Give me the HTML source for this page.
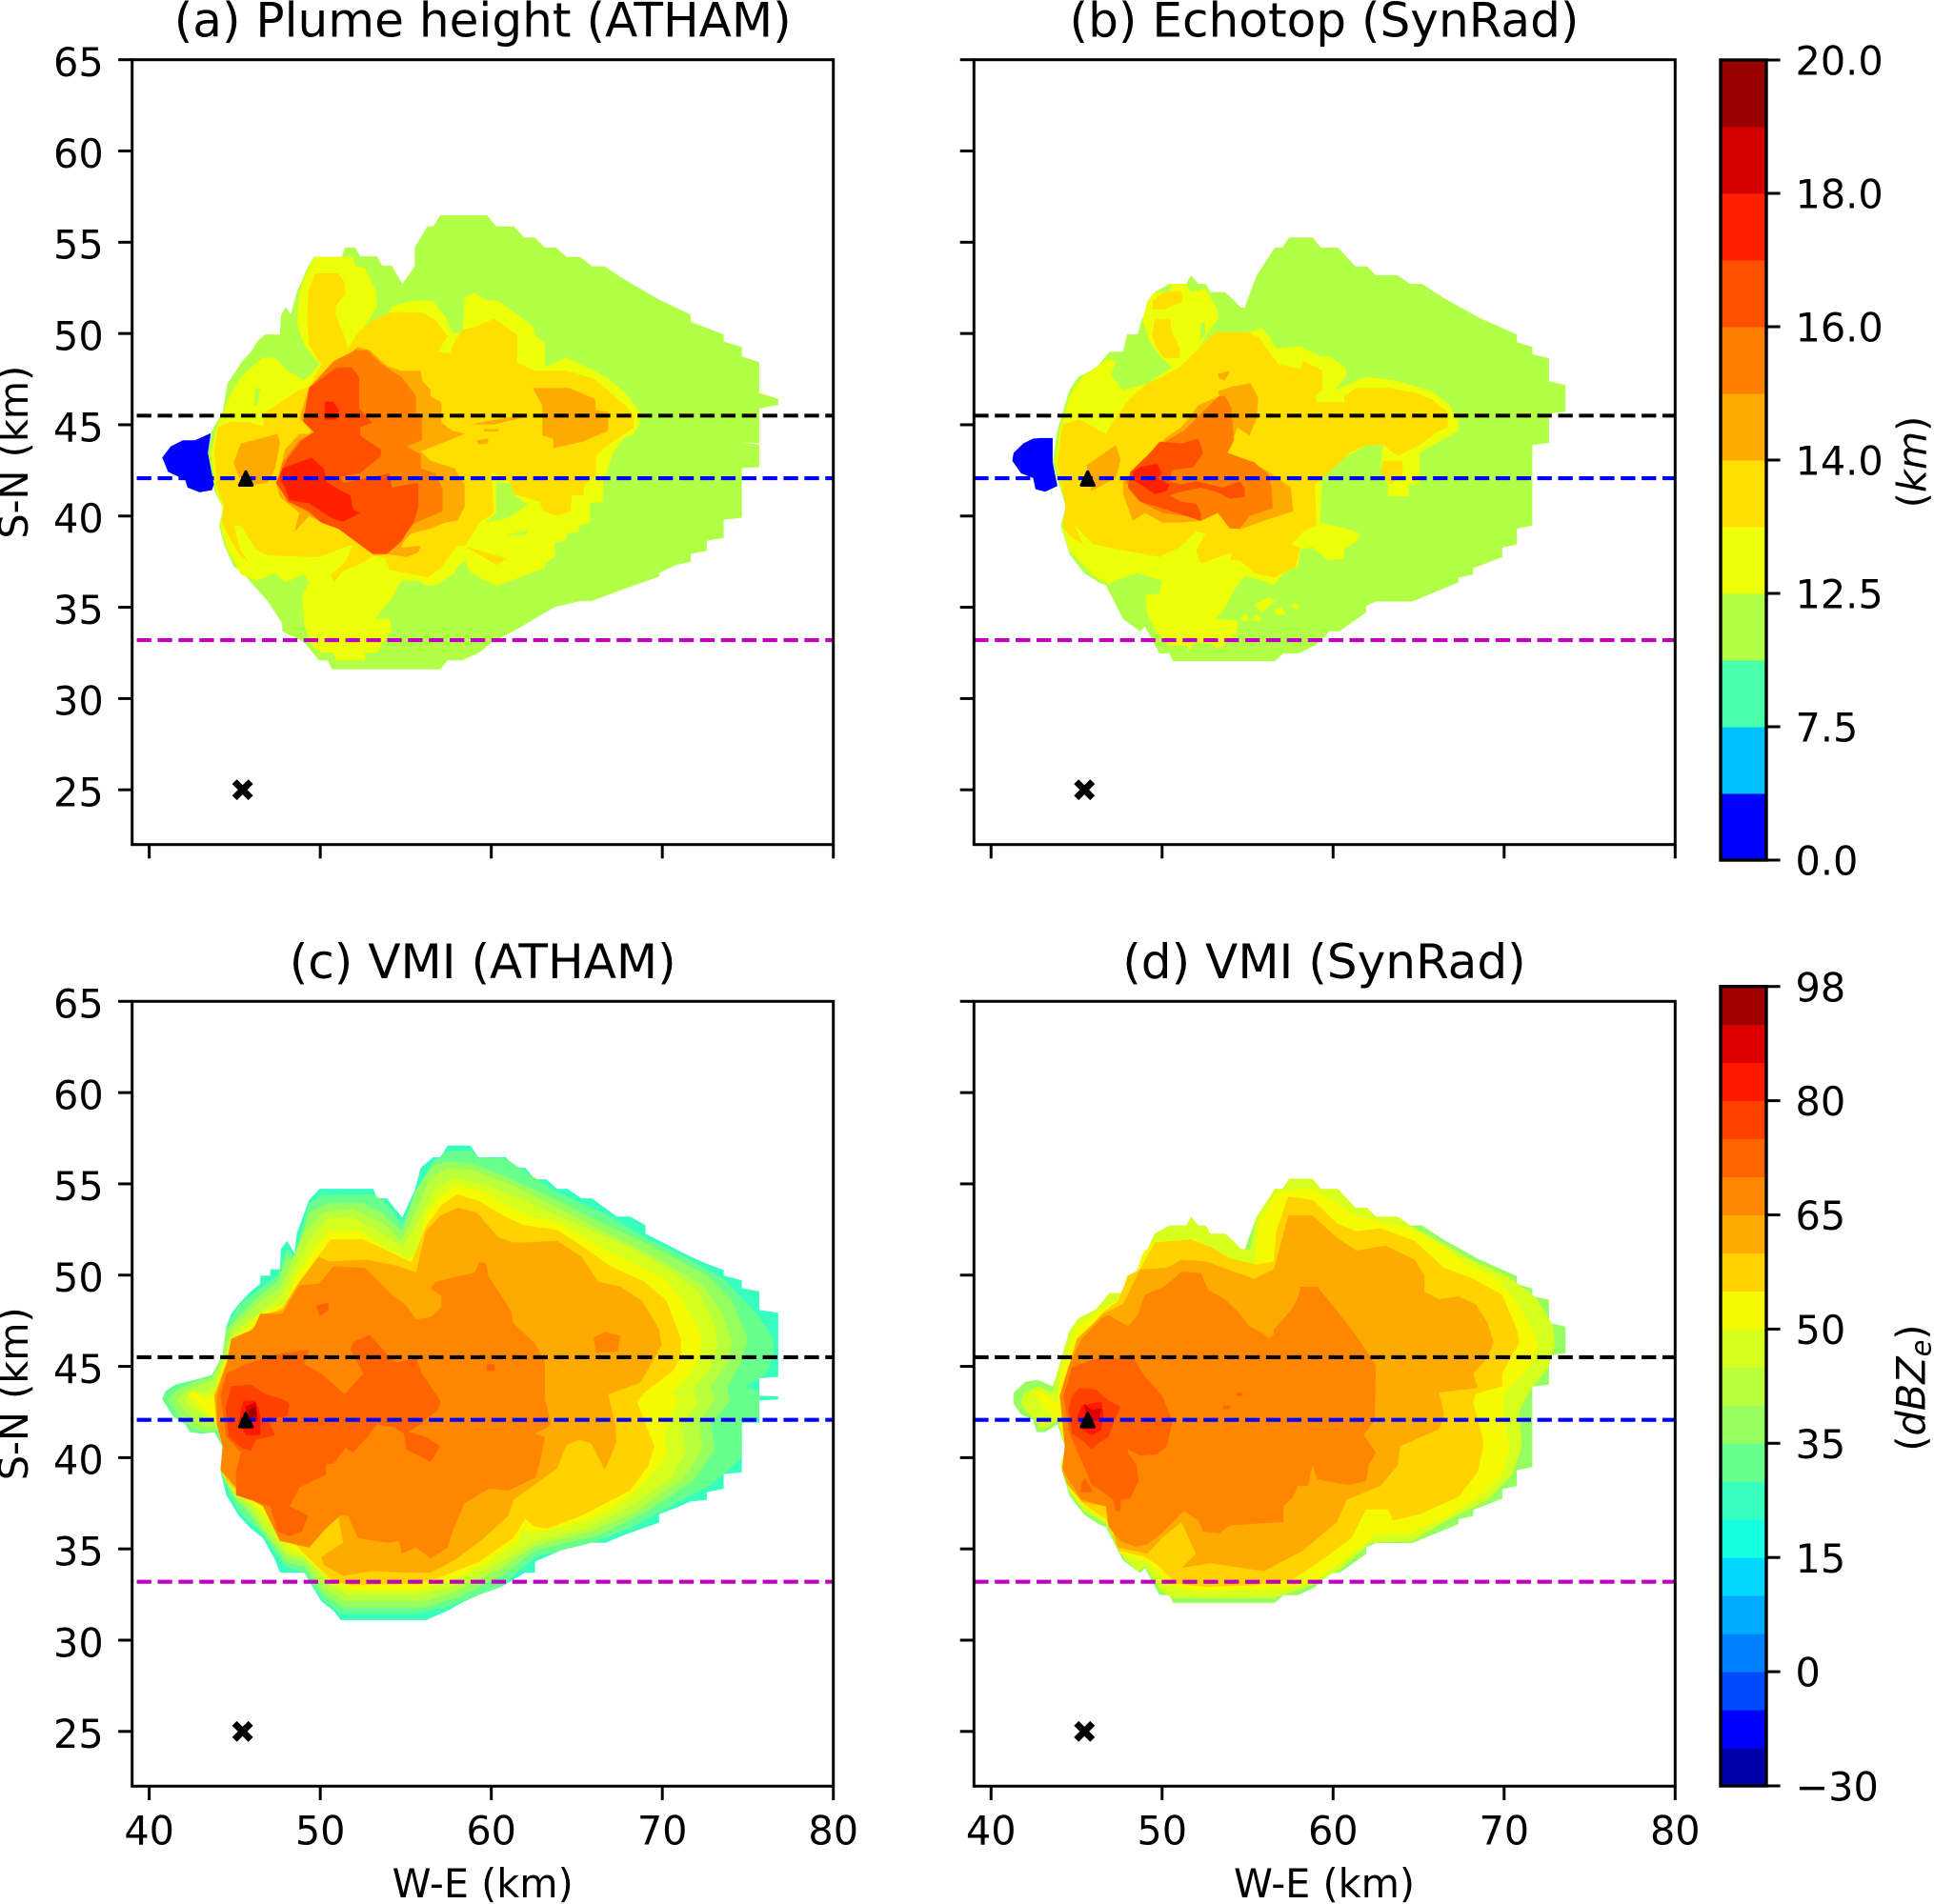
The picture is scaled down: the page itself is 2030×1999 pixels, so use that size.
<!DOCTYPE html>
<html lang="en">
<head>
<meta charset="utf-8">
<title>Plume height, echotop and VMI comparison</title>
<style>
html,body{margin:0;padding:0;background:#fff;}
svg{display:block;}
text{font-family:"DejaVu Sans","Liberation Sans",sans-serif;fill:#000;}
.tick{font-size:41.4px;}
.title{font-size:50.1px;text-anchor:middle;}
.axl{font-size:41.4px;text-anchor:middle;}
</style>
</head>
<body>
<svg id="fig" xmlns="http://www.w3.org/2000/svg" width="2030" height="1999" viewBox="0 0 2030 1999">
<rect x="0" y="0" width="2030" height="1999" fill="#fff"/>
<g id="plots"></g>
<text class="title" x="506.7" y="38.5">(a) Plume height (ATHAM)</text>
<text class="title" x="1390" y="38.5">(b) Echotop (SynRad)</text>
<text class="title" x="506.7" y="1027">(c) VMI (ATHAM)</text>
<text class="title" x="1390" y="1027">(d) VMI (SynRad)</text>
<text class="axl" x="506.7" y="1992">W-E (km)</text>
<text class="axl" x="1390" y="1992">W-E (km)</text>
<text class="axl" transform="translate(29,474.7) rotate(-90)">S-N (km)</text>
<text class="axl" transform="translate(29,1463.3) rotate(-90)">S-N (km)</text>
<text class="axl" transform="translate(2021.5,485) rotate(-90)">(<tspan font-style="italic">km</tspan>)</text>
<text class="axl" transform="translate(2020.5,1457) rotate(-90)">(<tspan font-style="italic">dBZ</tspan><tspan font-style="italic" font-size="29px" dy="6">e</tspan><tspan dy="-6">)</tspan></text>
</svg>
<script>
// ---------- axis tick values ----------
const xTickValues = [40,50,60,70,80];
const yTickValues = [25,30,35,40,45,50,55,60,65];
// ---------- horizontal reference lines (S-N km) ----------
const refLineValues = [45.5,42.07,33.2];
// ---------- markers (W-E km, S-N km) ----------
const ventPoint = [45.65,42.05];
const crossPoint = [45.46,25];
// ---------- colorbars ----------
const topColorbarTickLabels = ['0.0','7.5','12.5','14.0','16.0','18.0','20.0'];
const bottomColorbarTickLabels = ['\u221230','0','15','35','50','65','80','98'];
const topBandCount = 12;
const bottomBandCount = 21;

// ---------- contour outlines, flat W-E,S-N pairs in km ----------
const a_green=[57.02,56.48,59.75,56.48,60.29,55.86,61.34,55.86,61.91,55.27,62.54,55.27,63.13,54.71,63.79,54.71,64.41,54.19,65.21,54.19,65.89,53.68,66.63,53.68,67.68,53.02,69.81,51.86,71.66,51.04,71.66,50.65,73.59,49.95,73.59,49.56,74.65,49.26,74.65,48.74,75.67,48.43,75.67,46.75,76.78,46.41,76.78,46.09,75.67,45.89,75.67,43.98,74.65,44.05,75.67,43.91,75.67,42.68,74.65,42.63,74.65,39.91,73.59,39.79,73.59,38.79,72.6,38.65,72.6,38.1,71.66,37.92,71.66,37.49,70.81,37.32,69.81,36.88,69.81,36.68,67.82,36.02,65.83,35.33,65.12,35.33,63.7,35.01,61.29,33.68,60.15,33.16,59.3,32.52,58.3,32.09,57.45,32.09,57.02,31.6,50.68,31.6,50.43,32.09,49.92,32.09,49.06,33.08,47.78,33.68,47.78,34.11,46.93,35.33,45.94,36.37,45.37,36.97,44.94,37.23,44.37,38.44,44.09,39.48,44.32,40.43,43.8,41.39,43.43,43.46,43.66,44.67,44.29,45.71,44.57,47.27,45.08,47.96,45.37,48.4,45.94,49.0,46.36,49.61,46.79,49.95,47.64,49.95,47.7,50.99,47.98,51.46,48.27,51.04,48.64,52.29,49.29,53.68,49.63,54.19,51.25,54.19,51.45,54.71,52.05,54.71,52.33,54.23,53.33,54.23,53.61,53.71,54.18,53.71,54.8,52.72,55.52,53.68,55.52,54.71,56.25,55.86,56.6,55.86];
const a_blue=[43.6,44.54,42.67,44.15,41.96,44.15,41.25,43.81,40.76,43.2,41.1,42.42,42.1,41.99,42.24,41.56,42.95,41.3,43.66,41.42,43.78,41.73,43.43,43.46];
const a_yellow=[49.69,54.19,51.91,54.19,52.05,53.71,52.62,53.59,53.27,52.29,53.33,51.51,52.62,50.39,52.53,49.87,53.18,50.65,54.04,51.17,54.24,51.51,55.46,51.81,56.6,51.81,57.31,50.91,57.73,50.04,58.3,50.04,58.44,51.94,59.01,52.26,59.72,51.81,60.38,51.81,61.43,51.08,62.48,50.35,62.56,49.87,63.13,49.52,63.13,48.14,64.41,48.69,65.83,48.05,66.83,47.53,67.82,46.75,68.68,45.71,68.68,45.02,68.25,44.41,67.82,44.33,67.11,43.46,66.83,42.6,66.54,41.99,66.54,40.78,65.78,40.69,65.78,39.65,65.12,39.48,65.12,39.13,64.41,39.05,64.41,38.7,63.7,38.53,63.7,37.75,63.13,37.4,63.13,37.14,61.14,36.45,60.29,36.19,59.3,36.62,58.73,36.97,58.44,37.58,58.02,37.23,57.87,36.88,56.74,36.19,56.17,36.19,55.74,36.45,54.75,36.45,54.18,35.5,53.18,34.37,54.04,34.37,54.18,33.77,53.61,32.99,53.33,32.52,52.62,32.52,52.62,32.09,50.91,32.09,50.77,32.52,50.06,32.52,49.49,32.9,49.06,34.11,48.92,35.67,49.35,36.37,49.06,36.8,47.93,36.37,47.36,36.88,46.22,36.45,45.37,36.8,44.51,38.27,44.17,39.48,44.29,40.52,43.89,41.39,43.6,43.46,43.95,44.85,44.8,46.75,45.37,47.62,46.65,48.69,47.36,48.66,48.07,47.96,49.06,47.44,49.97,48.31,49.06,49.35,48.64,50.56,48.78,52.29,49.35,53.68];
const a_isle1=[60.29,41.82,61.29,41.82,61.29,41.21,62.14,40.61,61.0,39.91,59.72,39.65,60.29,40.17];
const a_isle2=[60.86,38.96,62.14,39.22,62.0,38.93];
const a_isle3=[48.78,48.66,49.29,47.96,49.06,47.62,48.72,48.31];
const a_isle4=[46.22,47.01,46.5,47.01,46.28,46.06,46.11,46.06];
const a_gold=[49.69,53.3,51.05,53.3,51.42,52.81,51.42,52.12,50.91,51.51,50.91,50.99,51.34,50.04,51.62,49.17,52.19,50.04,53.04,50.73,54.18,51.17,55.88,51.17,56.74,50.73,57.45,49.87,56.88,49.0,57.59,48.92,57.73,49.35,58.3,50.21,59.15,50.39,60.15,50.82,61.51,49.95,61.51,48.4,62.56,47.96,64.41,47.96,65.98,47.53,66.97,46.75,67.82,46.06,68.34,45.54,68.34,44.85,67.68,44.41,66.97,43.98,66.12,43.29,66.12,42.25,65.41,41.64,65.41,41.13,64.7,41.13,64.64,40.26,63.84,40.0,62.99,40.26,62.85,40.78,61.29,41.21,61.14,41.82,60.29,42.25,60.01,42.42,60.15,40.17,59.3,39.65,59.01,39.13,58.44,38.36,60.94,37.66,60.29,37.32,58.44,38.36,58.02,38.36,57.02,37.14,56.31,36.62,55.03,36.88,54.04,37.06,53.84,37.66,53.18,37.84,52.19,37.32,51.34,36.97,50.77,36.37,50.63,36.8,51.48,37.49,51.91,38.44,51.34,38.27,49.92,37.75,46.93,37.84,46.22,38.18,45.37,39.48,44.94,39.48,45.37,38.1,45.79,37.49,45.23,37.92,44.51,39.13,44.23,39.74,44.37,40.52,43.95,41.56,43.8,43.46,44.0,44.85,44.8,45.19,45.94,45.11,46.65,44.93,46.79,45.71,48.78,46.92,49.35,47.1,50.06,48.31,49.35,49.35,49.23,50.56,49.29,52.29];
const a_orange=[52.19,49.26,52.9,49.09,53.9,48.22,54.75,47.96,55.88,47.96,55.94,47.44,56.45,46.92,56.45,46.58,57.08,46.23,57.08,45.11,57.73,44.67,58.44,44.5,57.31,44.07,55.88,43.55,56.45,43.03,57.87,42.6,58.44,41.73,58.44,40.52,58.02,39.74,57.31,39.65,56.45,39.31,55.32,39.05,54.89,38.62,54.75,38.27,55.88,38.36,55.74,38.01,55.03,37.75,53.9,37.92,53.18,37.84,51.91,38.7,51.05,39.31,50.2,39.57,49.35,40.0,48.49,39.13,48.78,40.17,47.64,41.04,47.41,41.82,47.78,42.94,47.93,43.64,48.78,44.5,49.35,44.5,49.49,44.67,48.78,45.37,49.35,47.1,50.77,48.14];
const a_orange2=[45.37,43.98,46.5,44.24,47.5,44.5,47.64,43.98,47.36,42.6,46.93,41.82,46.08,41.73,45.23,42.16,44.94,42.94];
const a_orange3=[62.42,47.01,64.55,47.01,66.06,46.41,66.12,45.8,66.83,45.71,66.83,44.67,65.35,44.07,63.62,43.72,63.62,44.24,62.99,44.41,62.99,46.06];
const a_streak1=[58.73,45.02,61.29,45.44,62.28,45.5,60.15,45.02];
const a_streak2=[59.58,44.76,60.43,44.76,60.43,44.64,59.58,44.64];
const a_streak3=[59.15,44.15,59.81,44.24,59.81,43.98,59.24,43.93];
const a_dark=[52.05,49.09,52.76,49.09,53.61,48.31,54.75,47.62,55.6,46.58,55.6,45.71,55.94,45.37,55.94,44.15,55.03,43.81,55.88,43.38,55.88,42.6,56.74,42.34,57.16,41.47,57.16,40.26,55.6,39.65,55.03,39.22,53.61,37.92,53.04,37.92,51.05,39.31,50.06,39.65,49.2,40.26,48.07,40.78,47.5,41.82,47.78,42.94,48.78,44.15,49.63,44.59,49.06,45.11,49.35,47.01,50.77,48.48];
const a_redorange=[50.97,48.14,51.85,48.14,52.27,47.62,52.27,45.89,53.04,45.11,52.33,44.85,52.33,44.41,53.55,43.64,53.55,43.29,52.33,42.34,51.19,42.16,51.34,41.82,54.04,42.34,54.18,41.56,55.74,41.82,55.74,40.52,55.46,39.65,55.03,39.05,54.75,38.62,53.9,37.92,53.1,37.92,51.05,39.31,50.06,39.65,49.35,40.26,48.15,40.78,47.41,41.82,48.07,43.12,48.92,44.15,49.63,44.59,49.0,45.19,49.35,47.01,50.2,47.62];
const a_red1=[50.26,46.27,50.77,46.27,51.11,45.8,50.91,45.28,50.26,45.28];
const a_red2=[47.78,42.6,49.49,43.2,50.2,42.6,50.34,41.9,51.05,41.47,51.76,41.13,51.91,40.35,52.33,40.17,51.34,39.69,50.77,39.83,49.92,40.35,49.35,40.69,48.21,40.87,47.93,41.56,47.64,42.08];

const b_green=[57.44,55.27,58.8,55.27,59.29,54.71,60.28,54.71,61.31,53.67,61.99,53.67,62.5,53.19,63.78,53.19,64.49,52.72,65.2,52.72,66.48,51.94,68.47,50.9,70.74,49.95,70.74,49.52,71.65,49.26,71.65,48.86,72.62,48.65,72.62,47.39,73.59,47.18,73.59,45.71,72.62,45.62,72.62,44.0,71.65,43.89,71.65,39.48,70.74,39.31,70.74,38.44,69.89,38.27,69.89,37.75,68.19,37.14,68.19,36.8,67.33,36.62,67.33,36.36,64.63,35.32,62.5,35.32,61.93,35.07,61.93,34.72,60.37,33.68,59.8,33.68,58.95,32.9,57.95,32.47,57.1,32.47,56.59,32.04,50.65,32.04,50.42,32.47,49.85,32.47,49.0,33.94,48.71,33.68,47.72,34.37,46.72,36.19,46.3,36.36,45.44,36.88,44.59,37.92,44.08,39.48,44.36,40.52,43.6,42.94,43.88,44.67,44.31,46.06,44.59,46.92,45.1,47.62,46.16,48.13,46.92,49.0,47.72,49.0,47.95,49.95,48.57,49.95,48.8,50.73,49.57,52.26,50.42,52.72,51.41,52.72,51.7,53.19,52.12,52.72,52.55,52.72,52.84,52.26,53.69,52.26,54.26,51.77,54.6,51.42,54.83,51.42,55.17,52.29,55.51,53.15,56.59,54.71,57.04,54.71];
const b_blue=[43.6,44.27,42.89,44.27,42.46,44.24,41.89,43.98,41.32,43.46,41.24,43.03,41.75,42.34,42.46,42.08,42.6,41.47,43.17,41.33,43.88,41.64,43.6,42.94];
const b_yellow=[50.56,52.72,51.36,52.72,51.7,52.26,52.55,52.46,53.26,51.25,53.26,50.82,52.12,49.17,51.7,47.96,52.27,49.35,53.12,50.07,55.11,50.07,55.82,50.3,56.25,49.87,56.67,49.17,58.09,49.31,59.23,48.74,59.8,48.74,60.74,48.13,60.74,47.62,60.08,46.92,61.93,47.62,63.64,47.44,65.77,46.84,66.76,46.14,67.33,45.19,67.33,44.67,66.34,44.15,65.06,43.46,65.06,41.73,64.43,41.73,64.43,41.07,63.21,41.07,63.21,41.73,62.78,42.6,62.93,43.89,61.93,43.89,60.51,43.11,59.37,42.08,59.23,39.65,60.51,39.39,61.59,39.05,61.36,38.61,60.65,38.18,60.65,37.66,59.66,37.58,58.8,38.27,58.09,38.18,57.95,37.23,57.1,36.88,56.53,36.19,55.96,36.45,54.83,36.71,54.26,36.02,53.69,34.98,53.12,34.37,54.4,34.29,54.4,33.59,53.35,32.73,52.84,32.99,51.84,33.07,51.61,32.55,51.41,32.9,50.42,32.9,49.71,33.59,49.14,34.63,49.0,35.67,49.85,35.76,49.99,36.45,48.57,36.88,47.43,36.54,46.87,36.28,46.01,36.71,44.59,38.09,44.17,39.31,44.45,40.35,43.74,42.94,44.02,44.67,44.59,46.58,45.3,47.62,46.87,48.65,47.29,48.48,47.01,47.7,47.72,46.92,49.14,47.27,50.56,48.13,49.99,48.65,49.28,49.52,48.86,50.73,49.14,51.77,49.57,52.26,50.42,52.26];
const b_isle1=[55.39,35.15,56.25,35.58,56.59,35.32,55.82,34.72];
const b_isle2=[56.53,34.89,56.96,35.01,57.24,34.63,56.67,34.55];
const b_isle3=[57.53,35.07,57.81,35.27,58.09,35.01,57.81,34.89];
const b_isle4=[54.54,34.37,54.91,34.63,55.11,34.37,54.83,34.2];
const b_isle5=[55.25,34.37,55.54,34.63,55.82,34.37,55.54,34.2];
const b_greenisle=[52.27,50.56,52.5,50.64,52.55,49.95,52.21,49.61];
const b_gold1=[49.45,51.8,50.13,52.26,51.13,52.32,51.21,51.77,50.13,51.32,49.45,51.32];
const b_gold2=[49.57,50.77,50.48,50.77,50.56,50.13,51.04,49.17,51.04,48.65,50.13,48.65,49.71,49.17,49.42,49.87];
const b_gold3=[53.12,50.07,54.97,50.07,55.68,49.78,56.25,49.0,56.81,48.31,58.09,48.05,58.24,48.52,59.37,47.96,59.37,46.92,58.95,46.58,59.09,46.23,60.65,46.23,60.65,46.58,61.36,47.01,63.35,47.01,64.77,46.75,65.77,46.4,66.71,45.71,66.71,44.85,66.05,44.59,65.06,43.89,63.78,43.29,62.93,43.89,61.93,43.89,60.94,43.46,60.51,43.03,58.95,41.73,59.03,39.48,58.24,39.13,57.53,38.44,58.09,38.27,57.81,37.23,56.53,36.62,55.39,36.88,54.54,37.58,53.97,37.58,54.11,38.01,53.55,37.83,52.27,37.4,51.98,38.09,52.55,39.05,51.98,39.13,50.99,38.27,49.85,37.75,47.43,38.18,46.01,38.44,44.88,39.48,45.39,38.44,45.73,38.18,44.59,38.96,44.17,39.48,44.36,40.52,43.88,42.94,44.17,45.02,45.16,45.28,46.72,44.5,47.01,45.02,48.0,46.32,49.14,47.27,50.13,47.7,50.99,48.13];
const b_gold4=[62.93,43.03,64.06,43.03,64.06,42.25,63.35,41.73,62.78,42.42];
const b_orange=[54.11,47.1,55.17,47.27,55.62,46.49,55.54,45.37,55.11,44.41,54.4,44.85,54.2,44.33,53.83,43.46,54.83,43.11,56.25,42.42,57.53,41.56,57.67,40.26,55.96,39.74,54.54,39.27,53.97,39.39,53.26,40.17,52.27,39.74,51.13,39.65,49.99,39.65,49.0,40.17,48.29,39.74,47.72,41.21,47.72,41.9,48.86,43.11,50.28,44.33,51.13,44.85,52.12,46.06,53.35,46.58,53.26,46.84];
const b_orange2=[45.59,42.77,47.29,43.89,47.58,43.11,47.29,42.08,46.58,41.73,45.87,41.38];
const b_orange3=[53.26,47.79,53.97,47.96,53.69,47.44,53.35,47.53];
const b_dark=[53.35,46.58,53.69,46.58,54.03,45.97,54.11,45.19,54.2,44.15,53.83,43.46,55.39,42.94,56.25,42.25,56.39,41.56,56.47,40.43,55.11,40.0,54.54,39.31,53.97,39.31,53.26,40.17,52.27,39.74,51.41,40.0,49.99,40.17,48.71,40.78,47.86,41.9,49.0,43.11,50.28,44.15,51.27,44.67,52.55,45.88];
const b_redorange=[49.85,44.07,51.13,43.98,52.12,44.24,52.41,43.46,51.84,42.68,50.56,42.51,50.42,41.9,51.13,41.73,51.98,41.9,53.55,41.56,54.54,41.9,54.83,41.47,54.83,41.04,53.97,40.95,53.26,41.3,52.27,41.56,50.99,41.3,50.42,41.12,51.13,40.78,51.98,40.69,52.27,40.17,52.27,39.74,51.41,40.0,49.99,40.43,48.71,40.78,48.0,41.56,48.14,42.42,49.14,43.29];
const b_red=[48.71,42.68,49.71,42.86,49.99,42.34,49.71,42.08,50.42,41.73,50.28,41.38,49.57,41.21,49.0,41.56,48.29,41.99,48.29,42.42];

const c_outer=[57.45,57.1,58.78,57.1,59.24,56.46,60.86,56.46,61.34,55.89,61.98,55.89,62.56,55.25,63.22,55.25,63.84,54.73,64.47,54.73,65.27,54.21,65.89,54.21,67.34,53.21,68.11,53.21,69.02,52.74,69.02,52.27,71.66,51.01,72.6,50.63,73.59,50.28,73.59,49.97,74.65,49.71,74.65,49.28,75.67,49.11,75.67,48.1,76.78,47.93,76.78,44.43,75.67,44.35,75.67,43.39,76.78,43.36,76.78,43.19,75.67,43.13,75.67,41.92,74.65,41.92,74.65,39.19,73.59,39.1,73.59,38.29,72.6,38.11,72.6,37.68,71.66,37.6,70.81,37.25,69.81,36.9,69.81,36.44,67.82,35.78,66.69,35.34,65.89,35.34,64.27,35.0,62.56,34.3,62.56,33.7,61.98,33.7,60.58,32.92,59.3,32.49,58.3,32.06,57.45,31.62,56.2,31.1,51.2,31.1,50.77,31.62,50.06,32.14,49.06,33.7,47.64,33.7,47.36,34.39,46.65,35.6,45.94,36.12,45.23,36.82,44.51,37.94,44.17,39.24,44.29,40.62,43.8,41.4,43.09,41.32,42.38,41.4,42.1,41.84,41.39,42.27,40.76,43.22,40.96,43.65,41.53,44.0,42.67,44.26,43.66,44.52,44.29,45.64,44.51,47.2,44.8,47.89,45.23,48.41,45.94,49.11,46.5,49.54,46.5,49.97,47.07,49.97,47.07,50.32,47.64,50.32,47.7,51.44,48.07,51.88,48.49,51.18,48.64,52.31,49.35,54.13,49.97,54.73,53.1,54.73,53.33,54.21,53.9,54.21,54.32,53.69,54.8,53.17,55.52,54.65,55.88,55.89,56.6,56.46,57.02,56.46];
const c_band2=[57.45,56.81,58.78,56.81,59.24,56.46,60.86,56.38,61.98,55.68,63.84,54.56,65.27,53.95,66.69,53.35,69.02,52.05,71.66,50.84,73.59,49.8,75.67,47.72,76.49,46.51,76.49,45.47,76.07,44.6,74.93,43.91,75.67,43.57,75.67,42.27,74.65,41.92,74.59,39.93,73.59,39.1,72.6,38.37,70.81,37.51,68.11,36.12,65.89,35.34,62.56,34.56,60.58,32.92,59.3,32.49,57.45,31.8,55.6,31.45,51.2,31.45,50.2,32.14,49.06,33.7,47.93,34.05,46.65,35.78,45.23,37.07,44.51,38.37,44.17,39.24,44.29,40.62,43.8,41.4,43.09,41.32,42.38,41.4,42.1,41.84,41.39,42.27,40.76,43.22,40.96,43.65,41.53,44.0,42.67,44.26,43.66,44.52,44.29,45.64,44.51,47.2,45.23,48.33,46.5,49.28,47.5,49.97,48.07,51.44,48.49,51.01,49.35,53.95,50.06,54.39,53.1,54.44,53.9,53.95,54.8,52.74,55.52,54.56,56.6,56.2];
const c_band3=[57.45,56.24,58.87,56.12,61.0,55.34,63.84,54.13,66.4,52.91,69.53,51.53,72.66,49.97,74.08,48.59,74.99,46.51,74.65,45.3,73.79,43.91,73.93,43.05,72.8,41.84,73.08,40.45,71.8,38.72,68.96,36.99,66.4,35.78,62.56,34.91,60.58,33.53,58.16,32.4,56.17,31.8,51.34,31.8,50.2,32.49,49.06,34.05,48.07,34.22,46.65,35.95,45.37,37.51,44.46,38.72,44.17,39.24,44.29,40.62,43.95,41.49,43.24,41.4,42.53,41.58,41.67,42.36,41.1,43.22,41.67,43.74,42.67,44.17,43.66,44.43,44.29,45.64,44.51,47.03,46.5,48.93,47.5,49.63,48.07,51.01,48.49,50.66,49.35,53.43,50.48,53.95,52.47,53.95,53.61,53.43,54.8,52.39,55.6,54.65,56.6,56.03];
const c_band4=[57.45,55.86,58.87,55.77,61.29,54.9,63.84,53.69,65.83,52.74,69.53,51.01,72.37,49.45,73.51,47.89,74.08,46.34,73.79,45.12,72.8,43.91,73.08,43.22,72.09,41.84,72.37,40.45,71.23,38.89,68.39,36.99,65.83,35.95,62.56,35.17,60.15,33.7,57.87,32.66,56.17,32.14,51.48,32.14,50.2,32.83,49.06,34.31,48.07,34.56,46.65,36.12,45.94,37.16,45.08,37.68,44.29,39.07,44.29,40.62,43.95,41.66,43.52,41.66,42.81,41.84,41.96,42.7,41.67,43.22,42.1,43.65,42.95,44.0,43.66,44.26,44.29,45.47,44.8,47.03,46.5,48.59,47.64,49.28,48.21,50.49,49.06,52.39,50.2,53.43,51.91,53.61,53.61,52.91,54.75,51.88,55.46,53.26,56.45,55.34];
const c_band5=[57.87,55.34,59.58,54.99,61.85,54.13,63.84,53.26,65.55,52.57,68.11,51.53,70.38,50.32,72.09,49.11,73.08,47.2,73.22,46.16,72.8,44.95,71.8,43.74,72.09,43.05,71.09,41.66,71.38,40.28,70.52,38.89,67.82,37.16,65.55,36.12,62.56,35.43,60.15,34.05,57.87,33.01,55.88,32.49,51.62,32.49,50.34,33.18,49.06,34.56,48.07,34.74,46.65,36.47,45.94,37.42,45.08,38.03,44.29,39.24,44.29,40.62,43.95,41.84,43.24,42.36,42.38,42.79,42.1,43.22,42.53,43.57,43.24,43.57,43.8,43.91,44.29,45.12,44.94,46.86,46.65,48.07,47.78,48.93,48.35,50.14,49.35,51.88,50.48,53.09,51.91,53.17,53.04,52.57,54.8,51.53,55.6,52.74,56.74,54.82];
const c_yellow=[58.02,54.9,59.58,54.56,61.0,53.78,62.42,53.17,63.84,52.91,65.27,52.13,67.54,51.01,70.1,49.8,71.23,48.59,72.23,46.86,72.23,45.64,71.66,44.6,70.52,43.57,70.95,43.22,70.1,41.32,70.24,40.1,68.96,38.55,66.97,37.16,65.27,36.47,62.42,35.86,61.85,36.12,61.57,35.43,59.58,34.13,57.31,33.18,55.6,32.75,51.91,32.75,50.77,33.18,49.35,34.39,48.21,35.08,46.65,36.9,45.94,37.59,44.8,38.55,44.29,39.41,44.29,40.62,43.95,41.84,43.24,42.53,42.67,43.13,42.24,43.48,42.67,43.65,43.24,43.22,43.8,43.39,44.29,44.95,44.94,46.34,46.5,47.89,47.93,48.41,48.49,49.8,49.63,51.36,50.48,52.39,52.33,52.39,53.61,51.62,55.03,50.92,55.6,51.18,56.17,53.43,57.31,54.56];
const c_gold=[58.02,54.44,59.3,54.04,60.72,53.26,61.85,52.74,63.84,52.48,65.27,51.62,66.97,50.49,68.96,49.63,70.24,48.59,71.09,46.51,71.09,45.64,70.67,44.78,68.96,43.57,68.53,43.05,69.53,40.62,69.19,39.58,68.11,38.2,65.27,36.82,63.28,36.12,62.56,36.21,61.98,36.64,61.29,35.6,59.3,34.3,56.74,33.35,55.03,33.09,51.91,33.0,50.77,33.18,49.06,34.74,47.07,36.82,46.65,37.42,45.37,37.85,44.51,38.72,44.17,39.33,44.29,40.62,43.95,41.84,43.8,43.39,44.37,44.95,45.08,46.34,46.79,47.72,47.78,48.24,48.64,49.45,49.92,51.1,50.63,51.96,52.47,51.96,53.9,51.36,55.32,50.7,56.17,52.65,57.02,53.78];
const c_orange=[58.02,53.69,59.15,53.43,60.43,52.05,61.29,51.79,62.14,51.79,63.84,51.88,65.27,51.01,66.26,49.63,67.54,49.37,68.82,48.59,69.81,47.03,69.95,46.16,69.24,44.95,68.68,44.09,66.83,43.48,67.26,41.84,67.31,40.8,66.63,39.33,65.83,40.8,65.12,40.97,64.41,40.71,63.84,39.41,61.29,37.68,61.0,36.82,59.58,35.6,57.87,34.39,56.45,33.7,55.03,33.7,53.04,33.79,51.34,33.53,50.2,34.13,50.06,34.56,51.34,35.34,51.05,36.82,50.2,35.95,49.35,35.08,47.64,35.52,46.65,37.51,45.37,38.03,44.17,39.33,44.29,40.62,43.95,41.84,43.8,43.39,44.51,45.12,45.37,46.34,46.79,47.89,47.78,48.07,48.78,49.63,49.92,51.01,50.48,50.75,52.76,50.84,54.61,50.49,55.6,50.14,56.17,52.39,57.02,53.26];
const c_dark=[50.77,50.49,52.62,50.4,54.18,48.93,55.03,48.33,55.6,47.58,56.45,47.69,57.08,48.24,57.08,48.85,56.45,49.28,56.74,49.63,59.01,50.14,59.3,50.7,59.72,50.66,59.81,49.97,61.14,48.07,61.29,47.37,62.56,46.25,63.13,45.3,63.13,43.22,63.5,41.84,63.28,41.66,62.56,41.32,63.13,41.14,62.85,39.76,62.56,38.89,61.0,38.2,59.86,38.29,58.44,37.51,57.73,35.95,57.45,35.08,56.45,34.48,55.6,35.08,54.75,34.74,54.61,35.43,53.9,35.34,52.19,35.6,51.62,36.82,51.19,36.82,50.2,36.04,49.35,35.08,47.64,35.43,46.65,37.33,45.37,38.03,44.17,39.33,44.29,40.62,43.95,41.84,43.95,43.39,44.51,45.12,44.8,46.51,46.08,47.03,46.5,47.89,47.78,47.89,48.78,49.45,49.92,49.54];
const c_dark2=[65.98,46.6,66.69,46.89,67.54,46.68,67.4,45.82,66.12,45.73];
const c_deep=[47.78,45.73,49.35,45.9,49.06,45.12,50.06,44.61,51.42,43.48,52.53,44.61,51.76,45.9,51.91,46.34,52.9,46.72,53.9,45.64,54.46,45.21,55.6,45.47,55.94,44.61,57.02,43.13,56.96,42.7,55.88,41.84,55.17,41.4,56.17,41.14,57.02,40.62,56.45,39.76,55.03,40.45,54.89,41.32,54.32,41.66,53.33,41.84,52.76,41.14,51.91,40.28,51.48,40.54,50.77,39.67,50.34,39.67,50.34,39.07,48.78,38.37,48.21,37.33,48.78,37.07,49.29,36.82,48.92,35.95,48.21,35.69,47.5,35.95,47.07,37.33,45.08,37.94,45.08,39.24,45.37,40.28,44.51,41.14,44.17,43.39,44.51,44.61,45.65,45.12];
const c_deep2=[49.77,48.33,50.48,48.5,50.48,48.07,49.97,47.76];
const c_deep3=[59.72,45.12,60.2,45.12,60.2,44.74,59.72,44.74];
const c_redorange=[44.8,43.91,45.94,44.0,46.79,43.48,47.78,43.22,48.21,42.96,48.07,42.27,46.93,42.1,47.36,41.23,46.22,40.97,45.94,40.36,45.37,40.54,44.66,41.14,44.46,42.7];
const c_red=[45.51,43.13,46.22,43.13,46.5,42.36,46.5,41.23,45.65,41.23,45.23,42.01];
const c_crimson=[45.65,42.79,46.22,43.05,46.36,42.01,45.65,41.92];
const c_maroon=[45.79,42.61,46.22,42.79,46.28,42.27,45.88,42.18];

const d_outer=[57.44,55.27,58.8,55.27,59.29,54.71,60.28,54.71,61.31,53.67,61.99,53.67,62.5,53.19,63.78,53.19,64.49,52.72,65.2,52.72,66.48,51.94,68.47,50.9,70.74,49.95,70.74,49.52,71.65,49.26,71.65,48.86,72.62,48.65,72.62,47.39,73.59,47.18,73.59,45.71,72.62,45.62,72.62,44.0,71.65,43.89,71.65,39.48,70.74,39.31,70.74,38.44,69.89,38.27,69.89,37.75,68.19,37.14,68.19,36.8,67.33,36.62,67.33,36.36,64.63,35.32,62.5,35.32,61.93,35.07,61.93,34.72,60.37,33.68,59.8,33.68,58.95,32.9,57.95,32.47,57.1,32.47,56.59,32.04,50.65,32.04,50.42,32.47,49.85,32.47,49.0,33.94,48.71,33.68,47.72,34.37,46.72,36.19,46.3,36.36,45.44,36.88,44.59,37.92,44.08,39.48,44.36,40.52,43.88,41.83,43.17,41.4,42.66,41.4,42.46,42.09,41.75,42.35,41.32,42.96,41.32,43.56,42.03,44.17,42.74,44.26,43.6,43.91,43.88,44.67,44.31,46.06,44.59,46.92,45.1,47.62,46.16,48.13,46.92,49.0,47.72,49.0,47.95,49.95,48.57,49.95,48.8,50.73,49.57,52.26,50.42,52.72,51.41,52.72,51.7,53.19,52.12,52.72,52.55,52.72,52.84,52.26,53.69,52.26,54.26,51.77,54.6,51.42,54.83,51.42,55.17,52.29,55.51,53.15,56.59,54.71,57.04,54.71];
const d_band2=[57.44,55.28,58.8,55.28,59.29,54.73,60.28,54.73,61.31,53.69,61.99,53.69,62.5,53.21,63.78,53.21,64.49,52.74,66.48,51.7,67.9,50.92,70.17,49.97,71.88,48.76,72.87,47.2,72.96,46.16,72.59,44.95,71.6,43.82,70.88,42.53,71.03,40.62,70.46,39.06,69.04,37.68,66.48,36.47,64.63,35.43,62.22,35.34,60.37,33.87,58.95,33.09,57.67,32.66,56.53,32.31,50.65,32.31,49.99,32.66,49.0,34.04,48.57,33.78,47.72,34.56,46.72,36.38,45.44,37.07,44.59,38.11,44.08,39.58,44.36,40.62,43.88,42.0,43.31,41.66,42.83,41.57,42.6,42.09,42.03,42.53,41.75,43.05,41.98,43.57,42.74,43.91,43.6,43.57,43.88,44.69,44.31,46.08,44.59,46.94,45.1,47.63,46.16,48.15,46.92,49.02,47.72,49.02,47.95,49.97,48.57,49.97,48.8,50.75,49.57,52.27,50.42,52.7,51.41,52.7,51.7,53.21,52.12,52.7,52.55,52.7,52.84,52.27,53.69,52.27,54.26,51.79,54.6,51.44,55.17,51.44,55.51,53.17,56.59,54.73,57.04,54.73];
const d_yellow=[57.38,54.64,58.8,54.73,60.23,53.95,61.36,53.26,62.78,52.91,64.49,52.57,66.2,51.7,67.62,50.75,69.6,49.8,70.74,48.58,71.74,46.85,72.02,45.99,71.31,44.78,70.03,43.57,69.89,42.87,70.32,40.62,69.89,39.06,68.75,38.03,66.76,36.81,64.49,35.86,62.5,35.78,61.93,35.34,60.23,34.13,58.8,33.18,57.38,32.83,55.39,32.75,51.98,32.66,50.28,33.0,49.28,34.22,48.43,34.48,47.58,34.74,46.87,36.21,46.3,36.81,45.16,37.51,44.45,38.55,44.17,39.41,44.36,40.62,43.88,42.18,43.31,42.53,42.46,43.57,42.89,43.65,43.88,42.96,44.08,44.69,44.59,46.16,44.88,47.03,46.3,48.07,47.72,48.76,48.43,49.97,48.86,51.18,49.57,51.87,51.98,51.96,53.97,50.84,55.39,50.58,55.68,52.91,56.67,54.47];
const d_gold=[57.38,54.3,58.8,54.12,60.23,52.83,61.36,52.39,62.78,52.57,64.77,51.87,66.48,50.4,68.19,49.8,69.89,48.93,70.74,47.03,70.88,46.33,69.89,44.6,69.89,43.91,68.33,43.48,68.19,43.05,68.81,40.8,68.47,39.24,67.33,37.85,65.06,36.9,63.49,36.55,63.21,37.16,61.93,37.16,61.08,35.6,59.09,34.22,57.67,33.35,55.39,33.0,52.55,32.92,50.85,33.09,49.71,34.13,49.0,34.56,47.43,34.91,46.72,36.64,45.44,37.42,44.45,38.55,44.17,39.24,44.36,40.62,44.02,43.39,44.45,44.78,44.88,45.99,46.44,47.89,47.43,48.58,48.0,49.97,48.71,50.32,49.57,51.79,51.7,51.96,52.84,51.53,53.97,50.92,55.54,50.58,56.53,50.75,56.67,52.39];
const d_orange=[57.38,53.26,58.8,53.26,60.23,52.05,61.36,51.35,63.07,51.61,64.77,50.84,65.34,49.97,65.34,49.1,66.2,48.67,67.33,48.84,68.33,48.41,69.04,47.37,69.38,46.33,69.04,45.47,68.19,44.6,68.47,43.82,66.2,43.57,66.48,42.35,66.2,41.57,63.92,40.62,63.78,39.58,62.78,38.46,60.79,37.68,60.23,36.47,58.24,34.91,55.96,33.78,52.84,34.22,51.13,33.96,51.98,34.74,51.13,36.47,49.99,35.6,49.14,34.74,47.43,35.08,46.72,37.33,45.3,37.59,44.45,38.55,44.17,39.24,44.36,40.62,44.02,43.39,44.59,45.12,45.02,46.51,46.58,47.89,47.72,48.41,48.71,50.32,50.28,50.4,51.13,50.84,52.55,50.75,55.39,49.8,56.53,50.32];
const d_dark=[51.13,50.18,52.27,50.11,52.69,49.19,53.69,48.67,54.54,47.89,55.11,47.2,55.96,46.77,56.25,46.51,56.53,46.77,56.53,47.03,57.53,48.07,57.95,48.76,58.09,49.36,59.09,49.36,60.37,47.89,61.36,46.68,62.5,45.04,62.44,42.01,61.79,41.23,62.5,40.28,62.07,39.58,61.93,38.72,60.94,38.49,59.09,38.8,58.8,39.58,58.52,38.46,57.95,38.46,57.67,37.85,57.1,37.33,57.1,36.47,55.39,36.38,53.97,36.29,53.35,35.86,52.41,35.95,52.12,36.55,51.27,37.07,49.99,35.86,49.14,35.26,48.43,35.12,47.58,35.43,46.87,36.21,46.72,37.33,45.3,37.68,44.59,38.72,44.17,39.41,44.31,40.62,44.02,43.39,44.59,45.12,45.3,46.51,46.44,47.63,46.87,47.81,48.0,47.2,48.57,47.81,49.0,48.93,50.13,49.36];
const d_deep=[46.01,45.38,48.29,45.47,49.0,44.43,49.99,43.39,50.62,42.01,50.28,40.62,49.71,40.19,48.71,40.1,48.0,40.45,48.0,40.28,48.51,39.58,48.63,38.72,48.14,37.77,47.58,37.68,47.58,37.07,47.29,37.07,47.15,37.68,45.87,38.55,45.16,40.1,44.59,41.31,44.25,43.39,44.73,44.95];
const d_deep2=[45.5,38.89,45.96,38.11,45.22,38.11,45.3,38.63];
const d_deep3=[54.34,43.56,54.68,43.56,54.68,43.39,54.34,43.39];
const d_deep4=[53.55,42.84,53.97,42.84,53.97,42.66,53.55,42.66];
const d_redorange=[45.16,43.82,46.16,43.74,46.87,43.13,47.58,42.79,47.29,42.18,46.87,41.14,46.3,40.8,45.87,40.45,45.44,40.88,44.73,41.31,44.54,42.7,44.73,43.39];
const d_red=[45.3,42.87,46.44,43.05,46.58,42.35,46.44,41.49,45.87,41.23,45.3,41.58,45.02,42.18];
const d_crimson=[45.44,42.96,45.87,42.61,46.44,42.7,46.3,42.01,45.59,42.01];

// ---------- which colour band (index, bottom of colorbar = 0) each outline belongs to, in paint order ----------
const panelABands=[[3,a_green],[0,a_blue],[4,a_yellow],[3,a_isle1],[3,a_isle2],[3,a_isle3],[3,a_isle4],[5,a_gold],[6,a_orange],[6,a_orange2],[6,a_orange3],[6,a_streak1],[6,a_streak2],[6,a_streak3],[7,a_dark],[8,a_redorange],[9,a_red1],[9,a_red2]];
const panelBBands=[[3,b_green],[0,b_blue],[4,b_yellow],[4,b_isle1],[4,b_isle2],[4,b_isle3],[4,b_isle4],[4,b_isle5],[3,b_greenisle],[5,b_gold1],[5,b_gold2],[5,b_gold3],[5,b_gold4],[6,b_orange],[6,b_orange2],[6,b_orange3],[7,b_dark],[8,b_redorange],[9,b_red]];
const panelCBands=[[7,c_outer],[8,c_band2],[9,c_band3],[10,c_band4],[11,c_band5],[12,c_yellow],[13,c_gold],[14,c_orange],[15,c_dark],[15,c_dark2],[16,c_deep],[16,c_deep2],[16,c_deep3],[17,c_redorange],[18,c_red],[19,c_crimson],[20,c_maroon]];
const panelDBands=[[9,d_outer],[11,d_band2],[12,d_yellow],[13,d_gold],[14,d_orange],[15,d_dark],[16,d_deep],[16,d_deep2],[16,d_deep3],[16,d_deep4],[17,d_redorange],[18,d_red],[19,d_crimson]];

// ---------- drawing (styles and geometry below, data above) ----------
const topPalette=['#0000ff','#00c0ff','#4affaa','#b1ff47','#eeff0a','#ffde00','#ffaa00','#ff7f00','#ff5000','#ff2000','#d40000','#990000'];
const bottomPalette=['#0000aa','#0000ff','#004bff','#0080ff','#00aaff','#00d7ff','#14ffe1','#37ffbe','#69ff8c','#96ff5f','#b9ff3c','#d7ff1e','#f5fa00','#ffd200','#ffaa00','#ff8700','#ff6400','#ff4100','#ff1900','#dc0000','#a00000'];
const refLineColors=['#000000','#0000ff','#bf00bf'];
const NS='http://www.w3.org/2000/svg';
const root=document.getElementById('plots');
const AX={w:736,h:824,xMin:39,xMax:80,yMin:22,yMax:65};
function mk(tag,attrs,parent){
  const el=document.createElementNS(NS,tag);
  for(const k in attrs){el.setAttribute(k,attrs[k]);}
  (parent||root).appendChild(el);
  return el;
}
function xAxis(p,v){return p.left+(v-AX.xMin)/(AX.xMax-AX.xMin)*AX.w;}
function yAxis(p,v){return p.top+(AX.yMax-v)/(AX.yMax-AX.yMin)*AX.h;}
function drawPanel(p){
  const g=mk('g',{});
  
  
  p.bands.forEach(function(entry){
    const flat=entry[1];
    const pts=[];
    for(let i=0;i<flat.length;i+=2){
      pts.push(xAxis(p,flat[i]).toFixed(1)+','+yAxis(p,flat[i+1]).toFixed(1));
    }
    const poly=mk('polygon',{points:pts.join(' '),fill:p.palette[entry[0]]},g);
    
    
  });
  refLineValues.forEach(function(v,i){
    const line=mk('line',{x1:xAxis(p,p.lineStart),x2:xAxis(p,AX.xMax),y1:yAxis(p,v),y2:yAxis(p,v),stroke:refLineColors[i],'stroke-width':4.1,'stroke-dasharray':'15.3 6.6'},g);
    
    
  });
  const tx=xAxis(p,ventPoint[0]),ty=yAxis(p,ventPoint[1]);
  const tri=mk('polygon',{points:(tx)+','+(ty-7.3)+' '+(tx-6.8)+','+(ty+7)+' '+(tx+6.8)+','+(ty+7),fill:'#000',stroke:'#000','stroke-width':3,'stroke-linejoin':'round'},g);
  
  
  const cx=xAxis(p,crossPoint[0]),cy=yAxis(p,crossPoint[1]);
  const cross=mk('path',{d:'M'+(cx-8.5)+' '+(cy-8.5)+'L'+(cx+8.5)+' '+(cy+8.5)+'M'+(cx-8.5)+' '+(cy+8.5)+'L'+(cx+8.5)+' '+(cy-8.5),stroke:'#000','stroke-width':7,fill:'none'},g);
  
  
  const frame=mk('rect',{x:p.left,y:p.top,width:AX.w,height:AX.h,fill:'none',stroke:'#000','stroke-width':3},g);
  
  
  xTickValues.forEach(function(v){
    const x=xAxis(p,v),b=p.top+AX.h;
    const t=mk('line',{x1:x,x2:x,y1:b,y2:b+14.6,stroke:'#000','stroke-width':3},g);
    
    
    if(p.xLabels){
      const l=mk('text',{x:x,y:b+61,'class':'tick','text-anchor':'middle'},g);
      l.textContent=v;
      
      
    }
  });
  yTickValues.forEach(function(v){
    const y=yAxis(p,v);
    const t=mk('line',{x1:p.left-14.6,x2:p.left,y1:y,y2:y,stroke:'#000','stroke-width':3},g);
    
    
    if(p.yLabels){
      const l=mk('text',{x:p.left-30,y:y+17.3,'class':'tick','text-anchor':'end'},g);
      l.textContent=v;
      
      
    }
  });
}
function drawColorbar(cb){
  const g=mk('g',{});
  
  
  const h=(cb.bottom-cb.top)/cb.count;
  cb.palette.forEach(function(c,i){
    const r=mk('rect',{x:1806,y:cb.bottom-(i+1)*h,width:48,height:h+0.5,fill:c},g);
    
    
  });
  const box=mk('rect',{x:1806,y:cb.top,width:48,height:cb.bottom-cb.top,fill:'none',stroke:'#000','stroke-width':3.4},g);
  
  
  cb.labels.forEach(function(txt,i){
    const y=cb.bottom-i*cb.every*h;
    const t=mk('line',{x1:1854,x2:1868.6,y1:y,y2:y,stroke:'#000','stroke-width':3},g);
    
    
    const l=mk('text',{x:1884.5,y:y+15.6,'class':'tick'},g);
    l.textContent=txt;
    
    
  });
}
drawPanel({id:'a',left:138.7,top:62.7,bands:panelABands,palette:topPalette,lineStart:39.27,xLabels:false,yLabels:true});
drawPanel({id:'b',left:1022.3,top:62.7,bands:panelBBands,palette:topPalette,lineStart:39,xLabels:false,yLabels:false});
drawPanel({id:'c',left:138.7,top:1051.3,bands:panelCBands,palette:bottomPalette,lineStart:39.27,xLabels:true,yLabels:true});
drawPanel({id:'d',left:1022.3,top:1051.3,bands:panelDBands,palette:bottomPalette,lineStart:39,xLabels:true,yLabels:false});
drawColorbar({id:'top',top:63,bottom:903,count:topBandCount,palette:topPalette,labels:topColorbarTickLabels,every:2});
drawColorbar({id:'bottom',top:1035.7,bottom:1875,count:bottomBandCount,palette:bottomPalette,labels:bottomColorbarTickLabels,every:3});
</script>
</body>
</html>
